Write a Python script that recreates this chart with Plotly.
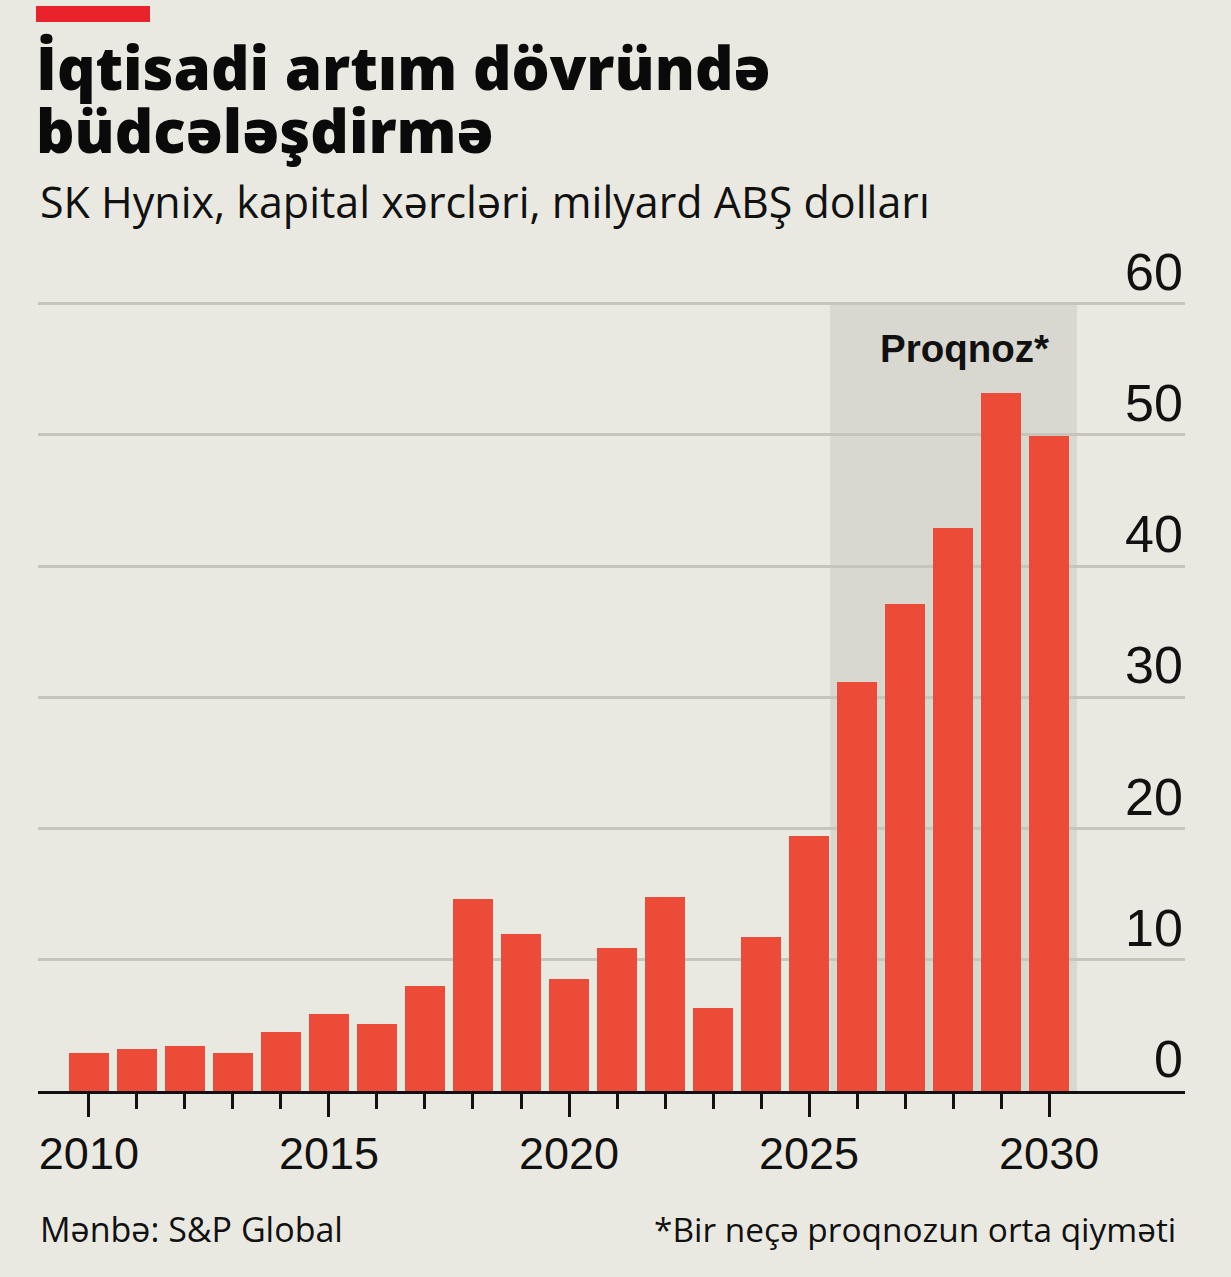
import plotly.graph_objects as go

years = list(range(2010, 2031))
capex = [2.9, 3.2, 3.4, 2.9, 4.5, 5.9, 5.1, 8.0, 14.6, 12.0, 8.5, 10.9, 14.8, 6.3, 11.7, 19.4, 31.2, 37.1, 42.9, 53.2, 49.9]
major_ticks = [2010, 2015, 2020, 2025, 2030]
y_ticks = [0, 10, 20, 30, 40, 50, 60]
title_lines = ["İqtisadi artım dövründə", "büdcələşdirmə"]

BG = "#EAE9E1"
BAR = "#EC4B37"
SHADE = "#D9D8D0"
GRID = "#C6C5BD"
NUM_FONT = "Liberation Sans, Arial, sans-serif"
TXT_FONT = "Open Sans, Noto Sans, sans-serif"

W, H = 1231, 1277
T, B = 297, 186
PH = H - T - B


def px_y(py):
    return (H - B - py) / PH


fig = go.Figure()
fig.add_trace(go.Bar(x=years, y=capex, marker=dict(color=BAR, line=dict(width=0)),
                     width=0.84, hoverinfo="x+y"))

fig.add_shape(type="rect", xref="x", yref="y", x0=2025.44, x1=2030.58, y0=0, y1=60,
              fillcolor=SHADE, line=dict(width=0), layer="below")

fig.add_annotation(x=2028.23, y=56.55, xref="x", yref="y", text="Proqnoz*", showarrow=False,
                   font=dict(family=NUM_FONT, size=38.5, color="#111111", weight=700),
                   xanchor="center", yanchor="middle")

for v in y_ticks:
    fig.add_annotation(x=1, xref="paper", y=v, yref="y", text=str(v), showarrow=False,
                       xanchor="right", yanchor="bottom", yshift=1,
                       font=dict(family=NUM_FONT, size=52, color="#111111"))

fig.add_shape(type="rect", xref="paper", yref="paper",
              x0=-2 / 1147, x1=112 / 1147, y0=px_y(22), y1=px_y(6),
              fillcolor="#E8232B", line=dict(width=0))

title_text = "<br>".join("<span style='font-size:60px'>%s</span>" % t for t in title_lines)
fig.add_annotation(xref="paper", yref="paper", x=0, y=px_y(24), xanchor="left", yanchor="top",
                   showarrow=False, text=title_text, xshift=-4, align="left",
                   font=dict(family=TXT_FONT, size=48.5, color="#0A0A0A", weight=800))
fig.add_annotation(xref="paper", yref="paper", x=0, y=px_y(202), xanchor="left", yanchor="middle",
                   showarrow=False, text="SK Hynix, kapital xərcləri, milyard ABŞ dolları",
                   font=dict(family=TXT_FONT, size=43, color="#111111"))
fig.add_annotation(xref="paper", yref="paper", x=0, y=px_y(1229), xanchor="left", yanchor="middle",
                   showarrow=False, text="Mənbə: S&P Global",
                   font=dict(family=TXT_FONT, size=34, color="#111111"))
fig.add_annotation(xref="paper", yref="paper", x=(1178 - 38) / 1147, y=px_y(1229), xanchor="right",
                   yanchor="middle", showarrow=False, text="*Bir neçə proqnozun orta qiyməti",
                   font=dict(family=TXT_FONT, size=33.4, color="#111111"))

fig.update_layout(
    width=W, height=H,
    paper_bgcolor=BG, plot_bgcolor=BG,
    margin=dict(l=38, r=46, t=T, b=B),
    showlegend=False,
    bargap=0,
    xaxis=dict(range=[2008.94, 2032.83], showgrid=False, zeroline=False,
               showline=True, linecolor="#111111", linewidth=3,
               tickmode="array", tickvals=major_ticks, ticktext=[str(t) for t in major_ticks],
               ticks="outside", ticklen=23, tickwidth=3, tickcolor="#111111",
               ticklabelstandoff=-2,
               tickfont=dict(family=NUM_FONT, size=45, color="#111111"),
               minor=dict(tickmode="array", tickvals=[y for y in years if y not in major_ticks],
                          ticks="outside", ticklen=15, tickwidth=3, tickcolor="#111111",
                          showgrid=False)),
    yaxis=dict(range=[0, 60.5], showgrid=True, gridcolor=GRID, gridwidth=2.5,
               tickmode="array", tickvals=y_ticks, showticklabels=False,
               zeroline=False, fixedrange=True),
)

fig.write_html("out.html")
